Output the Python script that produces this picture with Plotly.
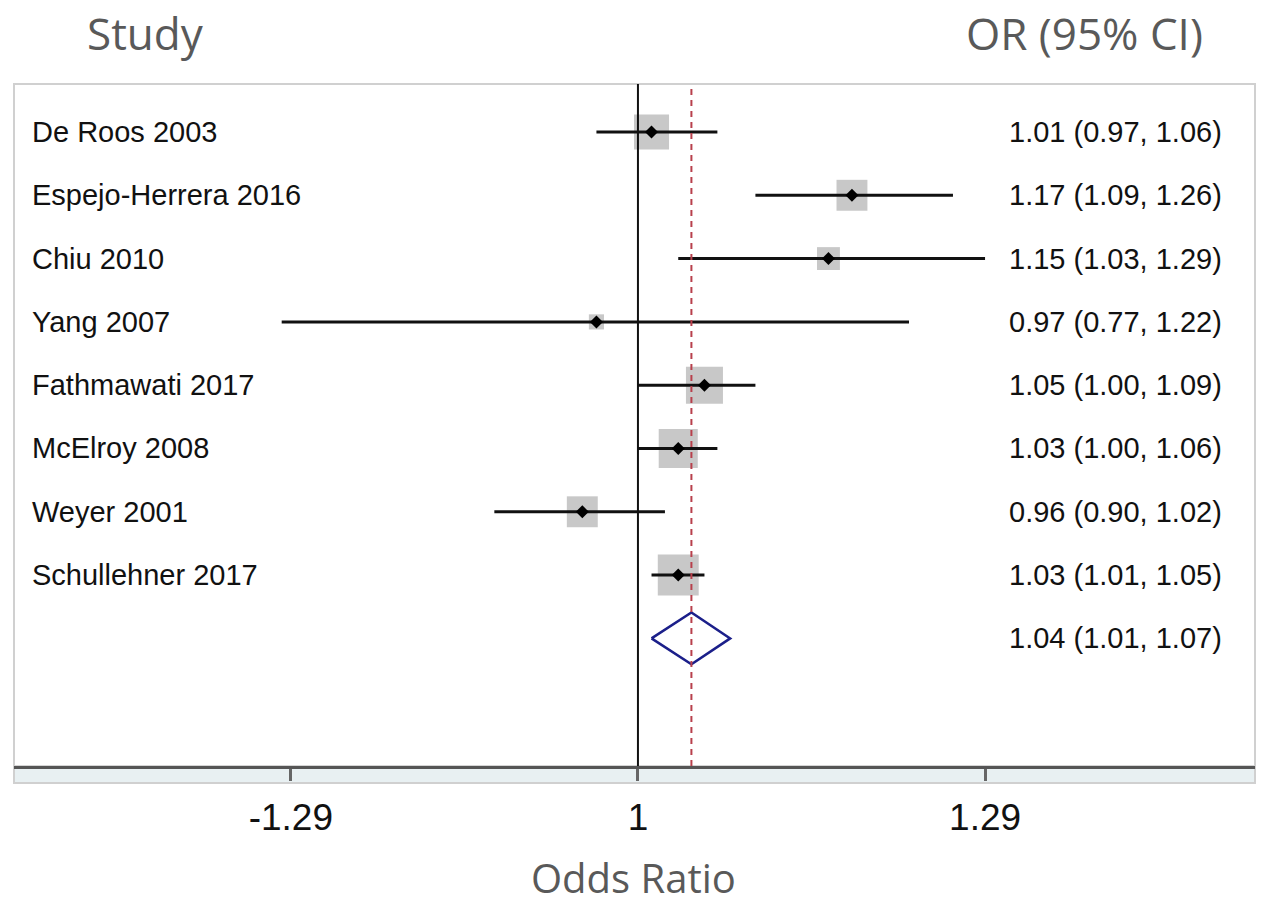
import plotly.graph_objects as go

# ---- data ----
studies = ["De Roos 2003", "Espejo-Herrera 2016", "Chiu 2010", "Yang 2007",
           "Fathmawati 2017", "McElroy 2008", "Weyer 2001", "Schullehner 2017"]
or_est = [1.01, 1.17, 1.15, 0.97, 1.05, 1.03, 0.96, 1.03]
ci_low = [0.97, 1.09, 1.03, 0.77, 1.00, 1.00, 0.90, 1.01]
ci_high = [1.06, 1.26, 1.29, 1.22, 1.09, 1.06, 1.02, 1.05]
weights = [14.5, 11.3, 6.2, 2.7, 16.2, 18.0, 11.3, 19.8]  # % weight (estimated)
pooled = 1.04
pooled_low = 1.01
pooled_high = 1.07
tick_vals = [1 / 1.29, 1.0, 1.29]
tick_text = ["-1.29", "1", "1.29"]

def fmt(o, l, h):
    return f"{o:.2f} ({l:.2f}, {h:.2f})"

rows = list(range(len(studies)))
pooled_row = len(studies)

fig = go.Figure()

# weight squares
fig.add_trace(go.Scatter(
    x=or_est, y=rows, mode="markers",
    marker=dict(symbol="square", size=[9.2 * w ** 0.5 for w in weights],
                color="#b0b0b0", line=dict(width=0)),
    hoverinfo="skip", showlegend=False))

# CI lines
cx, cy = [], []
for i, (lo, hi) in enumerate(zip(ci_low, ci_high)):
    cx += [lo, hi, None]
    cy += [i, i, None]
fig.add_trace(go.Scatter(x=cx, y=cy, mode="lines",
                         line=dict(color="#111111", width=3),
                         hoverinfo="skip", showlegend=False))

# point estimates
fig.add_trace(go.Scatter(
    x=or_est, y=rows, mode="markers",
    marker=dict(symbol="diamond", size=10, color="#000000"),
    hoverinfo="skip", showlegend=False))

# pooled diamond
h = 0.41
fig.add_trace(go.Scatter(
    x=[pooled_low, pooled, pooled_high, pooled, pooled_low],
    y=[pooled_row, pooled_row - h, pooled_row, pooled_row + h, pooled_row],
    mode="lines", fill="toself", fillcolor="white",
    line=dict(color="#1b1f8a", width=2.5),
    hoverinfo="skip", showlegend=False))

lab_font = dict(family="Liberation Sans, Arial", size=29, color="#111111")
annotations = []
for i, s in enumerate(studies):
    annotations.append(dict(x=0.0129, y=i, xref="paper", yref="y", text=s,
                            showarrow=False, xanchor="left", yanchor="middle", font=lab_font))
    annotations.append(dict(x=0.975, y=i, xref="paper", yref="y",
                            text=fmt(or_est[i], ci_low[i], ci_high[i]),
                            showarrow=False, xanchor="right", yanchor="middle", font=lab_font))
annotations.append(dict(x=0.975, y=pooled_row, xref="paper", yref="y",
                        text=fmt(pooled, pooled_low, pooled_high),
                        showarrow=False, xanchor="right", yanchor="middle", font=lab_font))

hdr_font = dict(family="Open Sans", size=44, color="#595959")
annotations += [
    dict(x=0.106, y=1.0748, xref="paper", yref="paper", text="Study", showarrow=False,
         xanchor="center", yanchor="middle", font=hdr_font),
    dict(x=0.863, y=1.0748, xref="paper", yref="paper", text="OR (95% CI)", showarrow=False,
         xanchor="center", yanchor="middle", font=hdr_font),
    dict(x=0.499, y=-0.1635, xref="paper", yref="paper", text="Odds Ratio", showarrow=False,
         xanchor="center", yanchor="middle", borderpad=0,
         font=dict(family="Open Sans", size=40, color="#595959")),
]

strip = 17 / 682
shapes = [
    dict(type="rect", xref="paper", yref="paper", x0=0, x1=1, y0=-strip, y1=0,
         fillcolor="#e8f0f2", line=dict(color="#c8c8c8", width=1.5), layer="below"),
    dict(type="rect", xref="paper", yref="paper", x0=0, x1=1, y0=-strip, y1=1,
         fillcolor="rgba(0,0,0,0)", line=dict(color="#d0d0d0", width=2), layer="below"),
    dict(type="line", xref="x", yref="paper", x0=1, x1=1, y0=0, y1=1,
         line=dict(color="#111111", width=2)),
    dict(type="line", xref="x", yref="paper", x0=pooled, x1=pooled, y0=0, y1=1,
         line=dict(color="#b8404c", width=2, dash="6px,5px")),
]

lo_dec = -0.1988
hi_dec = 0.1966
fig.update_layout(
    width=1261, height=906,
    margin=dict(l=14, r=6, t=84, b=140),
    paper_bgcolor="white", plot_bgcolor="white",
    annotations=annotations, shapes=shapes,
    xaxis=dict(type="log", range=[lo_dec, hi_dec], tickvals=tick_vals, ticktext=tick_text,
               showgrid=False, zeroline=False, showline=True, linecolor="#555555", linewidth=3,
               ticks="outside", ticklen=12, tickwidth=3, tickcolor="#666666",
               ticklabelstandoff=5,
               tickfont=dict(family="Liberation Sans, Arial", size=37, color="#111111")),
    yaxis=dict(range=[10.016, -0.758], visible=False, showgrid=False, zeroline=False),
)

fig.write_html("out.html", config={"displayModeBar": False},
               post_script="document.body.style.margin='0';document.body.style.padding='0';")
